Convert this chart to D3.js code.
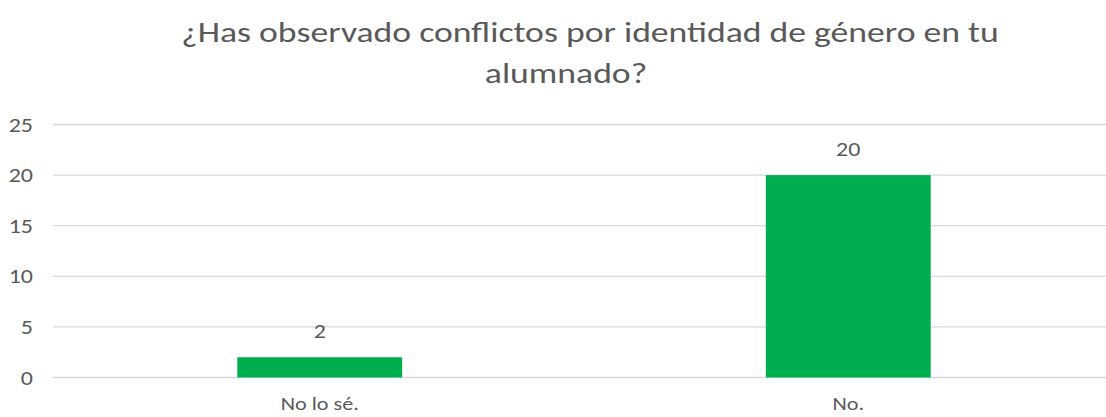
<!DOCTYPE html>
<html>
<head>
<meta charset="utf-8">
<script src="https://cdn.jsdelivr.net/npm/d3@7"></script>
<style>
  body { margin: 0; background: #fff; }
  text { font-family: Carlito, "Liberation Sans Narrow", "Open Sans", sans-serif; fill: #595959; }
</style>
</head>
<body>
<div id="chart"></div>
<script>
// Data
const categories = ["No lo sé.", "No."];
const values = [2, 20];
const yTicks = [0, 5, 10, 15, 20, 25];
const titleLines = ["¿Has observado conflictos por identidad de género en tu", "alumnado?"];

const width = 1106;
const height = 417;
const sx = 1.2;   // the source picture is stretched sideways

const svg = d3.select("#chart")
  .append("svg")
  .attr("width", width)
  .attr("height", height);

// Scales
const x = d3.scaleBand()
  .domain(categories)
  .range([55.5, 1112.5])
  .paddingInner(0.688)
  .paddingOuter(0.344);

const y = d3.scaleLinear()
  .domain([0, 25])
  .range([377.5, 124.5]);

// Gridlines
svg.selectAll("line.grid")
  .data(yTicks)
  .enter()
  .append("line")
  .attr("class", "grid")
  .attr("x1", 53)
  .attr("x2", width)
  .attr("y1", d => y(d))
  .attr("y2", d => y(d))
  .attr("stroke", "#d9d9d9")
  .attr("stroke-width", 1.3);

// Y tick labels
svg.selectAll("text.ytick")
  .data(yTicks)
  .enter()
  .append("text")
  .attr("class", "ytick")
  .attr("transform", d => `translate(33,${y(d) + 7}) scale(${sx},1)`)
  .attr("text-anchor", "end")
  .style("font-size", "20px")
  .text(d => d);

// Bars
svg.selectAll("rect.bar")
  .data(values)
  .enter()
  .append("rect")
  .attr("class", "bar")
  .attr("x", (d, i) => x(categories[i]))
  .attr("width", x.bandwidth())
  .attr("y", d => y(d))
  .attr("height", d => y(0) - y(d))
  .attr("fill", "#00ad4f");

// Data labels
svg.selectAll("text.label")
  .data(values)
  .enter()
  .append("text")
  .attr("class", "label")
  .attr("transform", (d, i) => `translate(${x(categories[i]) + x.bandwidth() / 2},${y(d) - 19.5}) scale(${sx},1)`)
  .attr("text-anchor", "middle")
  .style("font-size", "20px")
  .text(d => d);

// Category labels
svg.selectAll("text.cat")
  .data(categories)
  .enter()
  .append("text")
  .attr("class", "cat")
  .attr("transform", d => `translate(${x(d) + x.bandwidth() / 2},410) scale(${sx},1)`)
  .attr("text-anchor", "middle")
  .style("font-size", "18.5px")
  .text(d => d);

// Title
const title = svg.selectAll("text.title")
  .data(titleLines)
  .enter()
  .append("text")
  .attr("class", "title")
  .attr("text-anchor", "middle")
  .style("font-size", "29px")
  .text(d => d);

const tsx = 818 / title.node().getComputedTextLength();
title.attr("transform", (d, i) => `translate(${i ? 566 : 590},${i ? 82.5 : 42}) scale(${tsx},1)`);
</script>
</body>
</html>
